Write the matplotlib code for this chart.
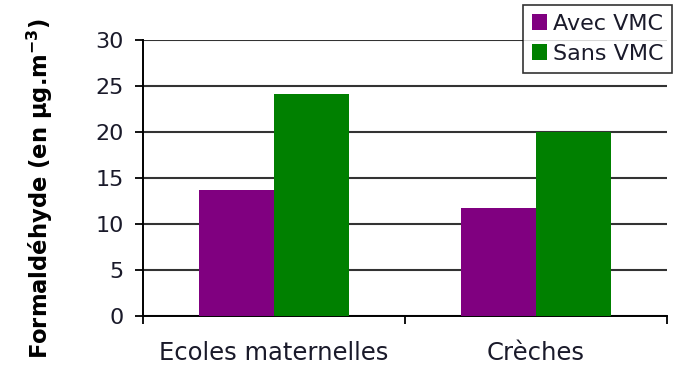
import numpy as np
import matplotlib.pyplot as plt
from matplotlib.patches import Patch

# Concentrations moyennes de formaldéhyde
categories = ['Ecoles maternelles', 'Crèches']
avec_vmc = [13.7, 11.7]
sans_vmc = [24.1, 20.0]
series_names = ['Avec VMC', 'Sans VMC']
yticks = [0, 5, 10, 15, 20, 25, 30]

purple = '#800080'
green = '#008000'
txt = '#1a1a2a'

fig = plt.figure(figsize=(6.77, 3.65), dpi=100)
ax = fig.add_axes([143/677, 1 - 316/365, (667 - 143)/677, (316 - 39.6)/365])

x = np.arange(len(categories))
w = 0.286
ax.bar(x - w/2, avec_vmc, w, color=purple, zorder=3)
ax.bar(x + w/2, sans_vmc, w, color=green, zorder=3)

ax.set_ylim(0, 30)
ax.set_xlim(-0.5, len(categories) - 0.5)
ax.set_yticks(yticks)
ax.set_yticklabels([str(v) for v in yticks], fontsize=16, color=txt)
ax.yaxis.grid(True, color='#333333', linewidth=1.5, zorder=0)
ax.set_axisbelow(True)

# ticks majeurs aux limites des catégories, étiquettes au centre
ax.set_xticks(np.arange(len(categories) + 1) - 0.5)
ax.set_xticklabels([])
ax.set_xticks(x, minor=True)
ax.set_xticklabels(categories, minor=True, fontsize=17.5, color=txt)
ax.tick_params(axis='x', which='minor', length=0, pad=18)
ax.tick_params(axis='both', which='major', length=6, width=1.3, color='black', direction='out')
ax.tick_params(axis='y', pad=8)

for s in ['top', 'right']:
    ax.spines[s].set_visible(False)
for s in ['left', 'bottom']:
    ax.spines[s].set_linewidth(1.4)
    ax.spines[s].set_color('black')

fig.text(40/677, 1 - 189/365, 'Formaldéhyde (en µg.m$^{\\mathregular{-3}}$)', rotation=90,
         fontsize=16.3, fontweight='bold', color='black', ha='center', va='center')

handles = [Patch(facecolor=purple), Patch(facecolor=green)]
leg = fig.legend(handles, series_names, loc='upper right', bbox_to_anchor=(672/677, 1 - 5/365),
                 fontsize=16, frameon=True, fancybox=False, edgecolor='black',
                 handlelength=0.7, handleheight=0.7, handletextpad=0.25,
                 borderpad=0.4, labelspacing=0.45, borderaxespad=0)
leg.get_frame().set_linewidth(1.2)
for t in leg.get_texts():
    t.set_color(txt)

fig.savefig('out.png', dpi=100)
